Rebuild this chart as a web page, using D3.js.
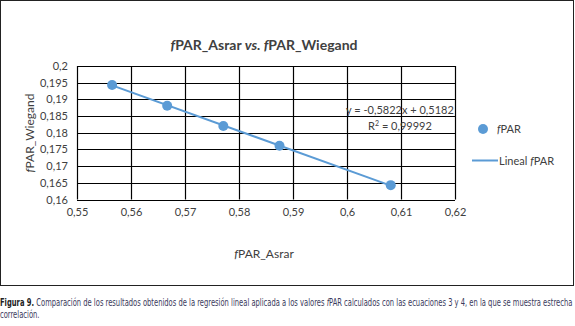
<!DOCTYPE html>
<html>
<head>
<meta charset="utf-8">
<script src="https://cdn.jsdelivr.net/npm/d3@7"></script>
<style>
  body { margin: 0; background: #fff; }
  svg { display: block; font-family: Lato, "Open Sans", sans-serif; }
</style>
</head>
<body>
<script>
// data
var asrar = [0.5565, 0.5667, 0.5771, 0.5875, 0.6081];
var wiegand = [0.1943, 0.1881, 0.182, 0.1761, 0.1643];
var slope = -0.5822, intercept = 0.5182;
var xTicks = [0.55, 0.56, 0.57, 0.58, 0.59, 0.6, 0.61, 0.62];
var yTicks = [0.16, 0.165, 0.17, 0.175, 0.18, 0.185, 0.19, 0.195, 0.2];

var width = 575, height = 326;
var blue = "#5b9bd5";

var svg = d3.select("body").append("svg")
  .attr("width", width).attr("height", height);

var fmt = function (d) { return String(+d.toFixed(3)).replace(".", ","); };

// chart frame
svg.append("rect")
  .attr("x", 0.5).attr("y", 0.5)
  .attr("width", 573).attr("height", 285)
  .attr("fill", "#fff").attr("stroke", "#222");

var x = d3.scaleLinear().domain([0.55, 0.62]).range([77, 455]);
var y = d3.scaleLinear().domain([0.16, 0.2]).range([199.5, 66]);

// grid
svg.append("g").selectAll("line").data(xTicks).join("line")
  .attr("x1", function (d) { return Math.round(x(d)) + 0.5; })
  .attr("x2", function (d) { return Math.round(x(d)) + 0.5; })
  .attr("y1", y(0.2)).attr("y2", y(0.16))
  .attr("stroke", "#000").attr("stroke-width", 1.2);
svg.append("g").selectAll("line").data(yTicks).join("line")
  .attr("y1", function (d) { return Math.round(y(d)) + 0.5; })
  .attr("y2", function (d) { return Math.round(y(d)) + 0.5; })
  .attr("x1", x(0.55)).attr("x2", x(0.62))
  .attr("stroke", "#000").attr("stroke-width", 1.2);

// axes labels
var xAxis = svg.append("g")
  .attr("transform", "translate(0," + y(0.16) + ")")
  .call(d3.axisBottom(x).tickValues(xTicks).tickFormat(fmt).tickSize(0).tickPadding(9));
var yAxis = svg.append("g")
  .attr("transform", "translate(" + x(0.55) + ",0)")
  .call(d3.axisLeft(y).tickValues(yTicks).tickFormat(fmt).tickSize(0).tickPadding(9));
[xAxis, yAxis].forEach(function (a) {
  a.select(".domain").remove();
  a.selectAll("text").attr("font-family", "Lato, sans-serif")
    .attr("font-size", 11).attr("fill", "#404040");
});

// trendline over data range
var x0 = d3.min(asrar), x1 = d3.max(asrar);
svg.append("line")
  .attr("x1", x(x0)).attr("y1", y(slope * x0 + intercept))
  .attr("x2", x(x1)).attr("y2", y(slope * x1 + intercept))
  .attr("stroke", blue).attr("stroke-width", 2);

// points
svg.append("g").selectAll("circle").data(asrar).join("circle")
  .attr("cx", function (d) { return x(d); })
  .attr("cy", function (d, i) { return y(wiegand[i]); })
  .attr("r", 5).attr("fill", blue);

// equation
svg.append("text").attr("x", 400).attr("y", 114).attr("text-anchor", "middle")
  .attr("font-size", 11).attr("fill", "#404040")
  .text("y = -0,5822x + 0,5182");
var r2 = svg.append("text").attr("x", 400).attr("y", 130).attr("text-anchor", "middle")
  .attr("font-size", 11).attr("fill", "#404040");
r2.append("tspan").text("R");
r2.append("tspan").attr("font-size", 7).attr("dy", -4).text("2");
r2.append("tspan").attr("dy", 4).text(" = 0,99992");

// title
var title = svg.append("text").attr("x", 264).attr("y", 50).attr("text-anchor", "middle")
  .attr("font-size", 14).attr("font-weight", "bold").attr("fill", "#404040");
title.append("tspan").attr("font-style", "italic").text("f");
title.append("tspan").text("PAR_Asrar ");
title.append("tspan").attr("font-style", "italic").text("vs. f");
title.append("tspan").text("PAR_Wiegand");

// axis titles
var xt = svg.append("text").attr("x", 264).attr("y", 258).attr("text-anchor", "middle")
  .attr("font-size", 12).attr("fill", "#404040");
xt.append("tspan").attr("font-style", "italic").text("f");
xt.append("tspan").text("PAR_Asrar");

var yt = svg.append("text").attr("transform", "translate(34,133) rotate(-90)")
  .attr("text-anchor", "middle").attr("font-size", 12).attr("fill", "#404040");
yt.append("tspan").attr("font-style", "italic").text("f");
yt.append("tspan").text("PAR_Wiegand");

// legend
svg.append("circle").attr("cx", 483).attr("cy", 129).attr("r", 5).attr("fill", blue);
var l1 = svg.append("text").attr("x", 497).attr("y", 133).attr("font-size", 11).attr("fill", "#404040");
l1.append("tspan").attr("font-style", "italic").text("f");
l1.append("tspan").text("PAR");
svg.append("line").attr("x1", 472).attr("x2", 498).attr("y1", 160.5).attr("y2", 160.5)
  .attr("stroke", blue).attr("stroke-width", 2);
var l2 = svg.append("text").attr("x", 499).attr("y", 164.5).attr("font-size", 11).attr("fill", "#404040");
l2.append("tspan").text("Lineal ");
l2.append("tspan").attr("font-style", "italic").text("f");
l2.append("tspan").text("PAR");

// caption, squeezed horizontally to fit the line like the condensed print font
var capFont = "'Liberation Sans Narrow', 'DejaVu Sans Condensed', sans-serif";
var capG = svg.append("g");
var cap = capG.append("text").attr("x", 0).attr("y", 306)
  .attr("font-family", capFont).attr("font-size", 10.5).attr("fill", "#3a3a5c");
cap.append("tspan").attr("font-weight", "bold").attr("fill", "#222").text("Figura 9.");
cap.append("tspan").text(" Comparación de los resultados obtenidos de la regresión lineal aplicada a los valores ");
cap.append("tspan").attr("font-style", "italic").text("f");
cap.append("tspan").text("PAR calculados con las ecuaciones 3 y 4, en la que se muestra estrecha");
var k = 573 / cap.node().getComputedTextLength();
capG.attr("transform", "scale(" + k + ",1)");
capG.append("text").attr("x", 0).attr("y", 318)
  .attr("font-family", capFont).attr("font-size", 10.5).attr("fill", "#3a3a5c")
  .text("correlación.");
</script>
</body>
</html>
